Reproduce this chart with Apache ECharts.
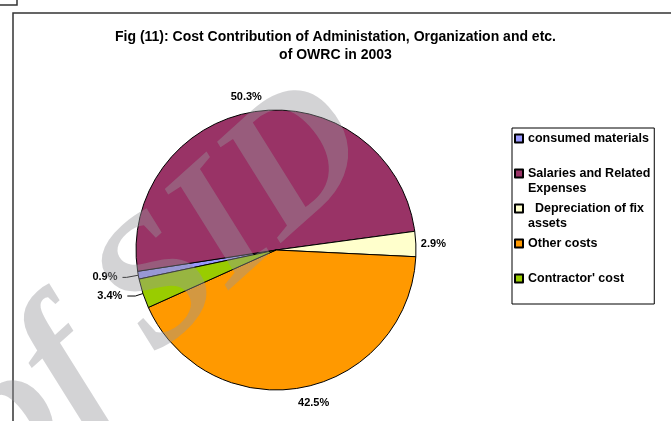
<!DOCTYPE html>
<html>
<head>
<meta charset="utf-8">
<script src="https://cdn.jsdelivr.net/npm/echarts@6/dist/echarts.min.js"></script>
<style>
  html, body { margin: 0; padding: 0; background: #fff; }
  #chart { width: 671px; height: 421px; }
</style>
</head>
<body>
<div id="chart"></div>
<script>
// Cost categories and their share of total cost (%)
const categories = [
  'consumed materials',
  'Salaries and Related Expenses',
  'Depreciation of fix assets',
  'Other costs',
  "Contractor' cost"
];
const shares = [0.9, 50.3, 2.9, 42.5, 3.4];

// Legend wording, wrapped the way it is printed in the key
const legendLabels = [
  'consumed materials',
  'Salaries and Related\nExpenses',
  '  Depreciation of fix\nassets',
  'Other costs',
  "Contractor' cost"
];

const sliceColors = ['#9999FF', '#993366', '#FFFFCC', '#FF9900', '#99CC00'];

// Label leader settings per slice: [showLine, length, length2, distance]
const leaderSettings = [
  [true, 12, 4, 5],
  [false, 15, 0, -8],
  [false, 0, 0, 5],
  [false, 16, 0, -7],
  [true, 8, 8, 5]
];

const FONT = '"Liberation Sans", Arial, sans-serif';

const pieData = categories.map((name, i) => ({
  name: name,
  value: shares[i],
  itemStyle: { color: sliceColors[i] },
  label: { distanceToLabelLine: leaderSettings[i][3] },
  labelLine: {
    show: leaderSettings[i][0],
    length: leaderSettings[i][1],
    length2: leaderSettings[i][2]
  }
}));

const chart = echarts.init(document.getElementById('chart'), null, { renderer: 'canvas' });

chart.setOption({
  backgroundColor: '#ffffff',
  animation: false,
  title: {
    text: 'Fig (11): Cost Contribution of Administation, Organization and etc.\nof OWRC in 2003',
    left: 'center',
    top: 28,
    padding: 0,
    textStyle: {
      fontFamily: FONT,
      fontSize: 14,
      fontWeight: 'bold',
      color: '#000',
      lineHeight: 18,
      align: 'center'
    }
  },
  legend: {
    orient: 'vertical',
    left: 512,
    top: 128,
    padding: [2, 4, 2, 2],
    itemGap: 3,
    itemWidth: 8,
    itemHeight: 30,
    icon: 'path://M0,0M0,3.5L8,3.5L8,11.5L0,11.5ZM8,30',
    borderColor: '#000',
    borderWidth: 1,
    selectedMode: false,
    data: categories,
    formatter: function (name) {
      const txt = legendLabels[categories.indexOf(name)];
      return txt.indexOf('\n') < 0 ? txt + '\n ' : txt;
    },
    textStyle: {
      fontFamily: FONT,
      fontSize: 12.5,
      fontWeight: 'bold',
      color: '#000',
      lineHeight: 15
    }
  },
  series: [{
    type: 'pie',
    center: [276, 250],
    radius: 140,
    startAngle: 192,
    clockwise: true,
    avoidLabelOverlap: false,
    data: pieData,
    itemStyle: { borderColor: '#000', borderWidth: 1 },
    label: {
      show: true,
      position: 'outside',
      formatter: function (p) { return p.value.toFixed(1) + '%'; },
      fontFamily: FONT,
      fontSize: 11,
      fontWeight: 'bold',
      color: '#000'
    },
    labelLine: {
      smooth: false,
      lineStyle: { color: '#000', width: 1 }
    },
    emphasis: { disabled: true }
  }],
  graphic: [
    // outer frame of the figure
    {
      type: 'rect',
      shape: { x: 13, y: 13, width: 720, height: 460 },
      style: { fill: 'none', stroke: '#333', lineWidth: 1.5 },
      silent: true
    },
    // corner of the preceding frame
    {
      type: 'rect',
      shape: { x: -10, y: -10, width: 27, height: 15 },
      style: { fill: 'none', stroke: '#333', lineWidth: 1.5 },
      silent: true
    },
    // archive watermark printed over the figure
    {
      type: 'text',
      x: -21,
      y: 452,
      rotation: 42 * Math.PI / 180,
      z: 100,
      silent: true,
      style: {
        text: 'of SID',
        font: 'italic bold 180px "Liberation Serif", "DejaVu Serif", serif',
        fill: 'rgba(150,150,155,0.42)',
        align: 'left',
        verticalAlign: 'middle'
      }
    }
  ]
});
</script>
</body>
</html>
